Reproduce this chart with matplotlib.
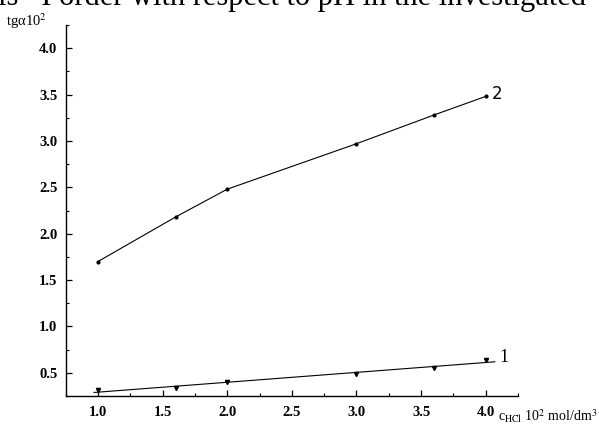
import numpy as np
import matplotlib
matplotlib.use("Agg")
import matplotlib.pyplot as plt
from matplotlib.ticker import MultipleLocator

# data
c_hcl = [1.0, 1.6, 2.0, 3.0, 3.6, 4.0]
tg_1 = [0.31, 0.34, 0.40, 0.49, 0.55, 0.64]
tg_2 = [1.70, 2.18, 2.48, 2.97, 3.28, 3.48]
xticks = [1.0, 1.5, 2.0, 2.5, 3.0, 3.5, 4.0]
yticks = [0.5, 1.0, 1.5, 2.0, 2.5, 3.0, 3.5, 4.0]

plt.rcParams["font.family"] = ["Liberation Serif", "DejaVu Serif"]
plt.rcParams["mathtext.fontset"] = "stix"

fig = plt.figure(figsize=(5.99, 4.37), dpi=100)
ax = fig.add_axes([0.1097, 0.0938, 0.7551, 0.849])

# curve 1: points + linear fit
a, b = np.polyfit(c_hcl, tg_1, 1)
xf = np.array([0.97, 4.07])
ax.plot(xf, a * xf + b, color="black", lw=0.8)
ax.plot(c_hcl, tg_1, ls="none", marker="v", ms=3, color="black")

# curve 2: polyline
ax.plot(c_hcl, tg_2, color="black", lw=0.8, marker="o", ms=2)

ax.text(4.14, 0.67, "1", fontsize=13, ha="center", va="center")
ax.text(4.09, 3.51, "2", fontsize=12, ha="center", va="center",
        family=["DejaVu Sans"])

ax.set_xlim(0.75, 4.25)
ax.set_ylim(0.25, 4.25)
ax.set_xticks(xticks)
ax.set_yticks(yticks)
ax.xaxis.set_minor_locator(MultipleLocator(0.25))
ax.yaxis.set_minor_locator(MultipleLocator(0.25))
ax.set_xticklabels([f"{v:.1f}" for v in xticks], fontweight="bold", fontsize=10.5)
ax.set_yticklabels([f"{v:.1f}" for v in yticks], fontweight="bold", fontsize=10.5)
ax.tick_params(which="major", direction="in", length=4, width=0.9, pad=6)
ax.tick_params(which="minor", direction="in", length=2, width=0.8)
ax.tick_params(axis="x", pad=7)

for s in ["top", "right"]:
    ax.spines[s].set_visible(False)
for s in ["left", "bottom"]:
    ax.spines[s].set_linewidth(1.0)

# axis titles in the corners, as in the scan
fig.text(6 / 599, 1 - 26 / 437, "tgα10$^2$", fontsize=10.5, ha="left",
         va="baseline")
fig.text(597 / 599, 1 - 421 / 437, "c$_{\\mathrm{HCl}}$ 10$^2$ mol/dm$^3$",
         fontsize=10, ha="right", va="baseline")

# clipped line of body text above the figure
fig.text(-2 / 599, 1 - 5 / 437, "is   I order with respect to pH in the investigated",
         fontsize=22, ha="left", va="baseline")

fig.savefig("out.png", dpi=100)
